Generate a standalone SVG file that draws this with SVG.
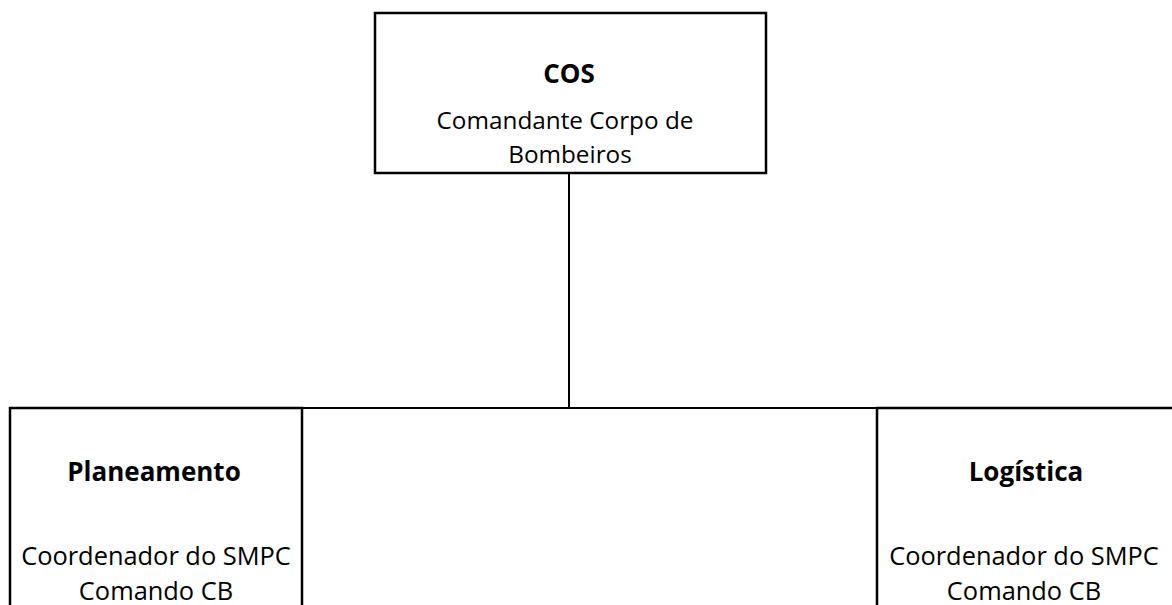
<svg xmlns="http://www.w3.org/2000/svg" width="1172" height="605" viewBox="0 0 1172 605">
<style>
.box{fill:#fff;stroke:#000;stroke-width:2.5}
.line{stroke:#000;stroke-width:2;fill:none}
text{font-family:"Open Sans","Liberation Sans",sans-serif;fill:#000;text-anchor:middle}
.t{font-size:24.3px}
.s{font-size:25.4px}
.b{font-weight:bold;font-size:26px}
</style>
<rect width="1172" height="605" fill="#fff"/>
<g id="connectors">
<line class="line" x1="569" y1="173" x2="569" y2="408"/>
<line class="line" x1="302" y1="408" x2="877" y2="408"/>
</g>
<g id="cos">
<rect class="box" x="375" y="13" width="391" height="160"/>
<text class="b" x="569" y="83">COS</text>
<text class="t" x="565" y="129">Comandante Corpo de</text>
<text class="t" x="570" y="163">Bombeiros</text>
</g>
<g id="planeamento">
<rect class="box" x="10" y="408" width="292" height="220"/>
<text class="b" x="154" y="481">Planeamento</text>
<text class="s" x="156" y="565">Coordenador do SMPC</text>
<text class="s" x="156" y="600">Comando CB</text>
</g>
<g id="logistica">
<rect class="box" x="877" y="408" width="320" height="220"/>
<text class="b" x="1026" y="481">Logística</text>
<text class="s" x="1024" y="565">Coordenador do SMPC</text>
<text class="s" x="1024" y="600">Comando CB</text>
</g>
</svg>
